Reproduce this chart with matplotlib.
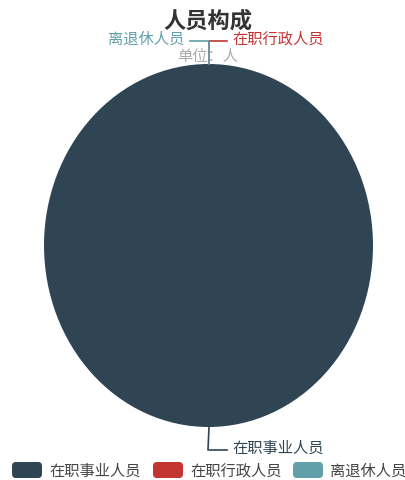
import numpy as np
import matplotlib.pyplot as plt
from matplotlib.patches import FancyBboxPatch

plt.rcParams['font.family'] = ['Noto Sans CJK SC', 'DejaVu Sans']

names = ['在职事业人员', '在职行政人员', '离退休人员']
values = [100, 0, 0]
colors = ['#2f4554', '#c23531', '#61a0a8']
label_side = [1, 1, -1]  # which way the leader line turns

W, H = 406, 481
fig = plt.figure(figsize=(W / 100, H / 100), dpi=100)

# pie centre / radii in pixels (stretched, like the original)
cx, cy = 208.5, 246.5
rx, ry = 164.5, 181.5
ax = fig.add_axes([(cx - rx) / W, 1 - (cy + ry) / H, 2 * rx / W, 2 * ry / H])
wedges, _ = ax.pie(values, colors=colors, startangle=90, counterclock=False,
                   wedgeprops=dict(linewidth=0))
ax.set_aspect('auto')
ax.set_xlim(-1, 1)
ax.set_ylim(-1, 1)
ax.axis('off')

def px(x, y):
    # pixel (from top-left) -> figure fraction
    return x / W, 1 - y / H

for w, name, col, side in zip(wedges, names, colors, label_side):
    mid = np.deg2rad((w.theta1 + w.theta2) / 2)
    x0 = cx + rx * np.cos(mid)
    y0 = cy - ry * np.sin(mid)
    x1 = cx + (rx + 23) * np.cos(mid)
    y1 = cy - (ry + 23) * np.sin(mid)
    x2 = x1 + side * 19
    fig.add_artist(plt.Line2D(*zip(px(x0, y0), px(x1, y1), px(x2, y1)),
                              color=col, lw=1.2, transform=fig.transFigure))
    fig.text(*px(x2 + side * 5, y1 - 3), name, color=col, fontsize=11,
             ha='left' if side > 0 else 'right', va='center')

fig.text(*px(208, 21), '人员构成', fontsize=16, fontweight='bold',
         color='#333333', ha='center', va='center')
fig.text(*px(208, 57), '单位：人', fontsize=11, color='#aaaaaa',
         ha='center', va='center')

# legend along the bottom
leg_x = [12, 153, 293]
for lx, name, col in zip(leg_x, names, colors):
    x0, y0 = px(lx, 479)
    fig.add_artist(FancyBboxPatch((x0, y0), 30 / W, 16 / H,
                                  boxstyle='round,pad=0,rounding_size=0.009',
                                  fc=col, ec='none', transform=fig.transFigure))
    fig.text(*px(lx + 37, 471), name, fontsize=11, color='#444444',
             ha='left', va='center')

fig.savefig('out.png', dpi=100)
